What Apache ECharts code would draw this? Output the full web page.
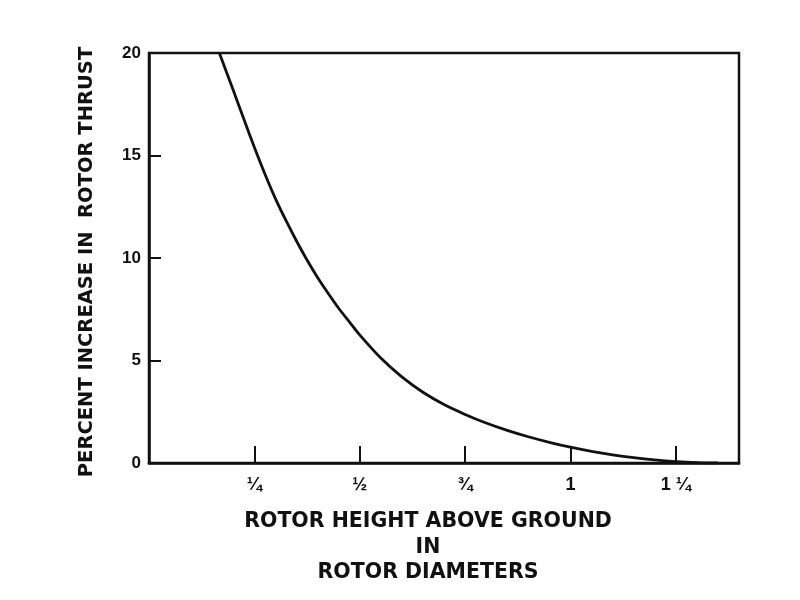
<!DOCTYPE html>
<html>
<head>
<meta charset="utf-8">
<script src="https://cdn.jsdelivr.net/npm/echarts@6/dist/echarts.min.js"></script>
<style>html,body{margin:0;padding:0;background:#fff}#c{width:800px;height:600px}</style>
</head>
<body>
<div id="c"></div>
<script>
var heights = [0.167, 0.2, 0.225, 0.25, 0.275, 0.3, 0.325, 0.35, 0.375, 0.4, 0.425, 0.45, 0.475, 0.5, 0.55, 0.6, 0.65, 0.7, 0.75, 0.8, 0.85, 0.9, 0.95, 1.0, 1.05, 1.1, 1.15, 1.2, 1.25, 1.3, 1.35];
var thrustIncrease = [20, 18.18, 16.78, 15.4, 14.1, 12.9, 11.83, 10.83, 9.9, 9.05, 8.28, 7.55, 6.9, 6.25, 5.12, 4.2, 3.45, 2.85, 2.37, 1.95, 1.59, 1.28, 1.01, 0.77, 0.57, 0.4, 0.26, 0.15, 0.07, 0.02, 0.0];
var xTickValues = [0.25, 0.5, 0.75, 1.0, 1.25];
var xTickLabels = ['\u00BC', '\u00BD', '\u00BE', '1', '1 \u00BC'];
var yTickValues = [0, 5, 10, 15, 20];
var yTickLabels = ['0', '5', '10', '15', '20'];
var xTitle = 'ROTOR HEIGHT ABOVE GROUND\nIN\nROTOR DIAMETERS';
var yTitle = 'PERCENT INCREASE IN  ROTOR THRUST';

var data = heights.map(function (h, i) { return [h, thrustIncrease[i]]; });
var font = '"Liberation Sans", Arial, sans-serif';
var titleFont = '"DejaVu Sans", sans-serif';
var chart = echarts.init(document.getElementById('c'));
chart.setOption({
  backgroundColor: '#fff',
  animation: false,
  title: {
    text: xTitle, left: 423, top: 504, textAlign: 'center',
    textStyle: { color: '#111', fontFamily: titleFont, fontWeight: 'bold', fontSize: 20.5, lineHeight: 25.5 }
  },
  grid: { left: 149, right: 61, top: 53, bottom: 137, show: true, borderColor: '#111', borderWidth: 2.5, backgroundColor: 'transparent' },
  xAxis: {
    type: 'value', min: 0, max: 1.4, interval: 0.25,
    splitLine: { show: false },
    axisLine: { show: true, lineStyle: { color: '#111', width: 2.5 } },
    axisTick: { show: true, inside: true, length: 17, lineStyle: { color: '#111', width: 2 } },
    axisLabel: {
      color: '#111', fontFamily: font, fontWeight: 'bold', fontSize: 18, margin: 13,
      showMaxLabel: false, showMinLabel: false,
      formatter: function (v) {
        for (var i = 0; i < xTickValues.length; i++) if (Math.abs(v - xTickValues[i]) < 1e-6) return xTickLabels[i];
        return '';
      }
    }
  },
  yAxis: {
    type: 'value', min: 0, max: 20, interval: 5,
    splitLine: { show: false },
    axisLine: { show: true, lineStyle: { color: '#111', width: 2.5 } },
    axisTick: { show: true, inside: true, length: 12, lineStyle: { color: '#111', width: 2 } },
    axisLabel: {
      color: '#111', fontFamily: font, fontWeight: 'bold', fontSize: 17, margin: 8,
      formatter: function (v) {
        for (var i = 0; i < yTickValues.length; i++) if (Math.abs(v - yTickValues[i]) < 1e-6) return yTickLabels[i];
        return '';
      }
    },
    name: yTitle,
    nameLocation: 'middle', nameGap: 52, nameRotate: 90,
    nameTextStyle: { color: '#111', fontFamily: titleFont, fontWeight: 'bold', fontSize: 19.5, padding: [0, 8, 0, 0] }
  },
  series: [{
    type: 'line', data: data, smooth: 0.25, symbol: 'none', clip: true,
    lineStyle: { color: '#111', width: 2.8 }
  }]
});
</script>
</body>
</html>
